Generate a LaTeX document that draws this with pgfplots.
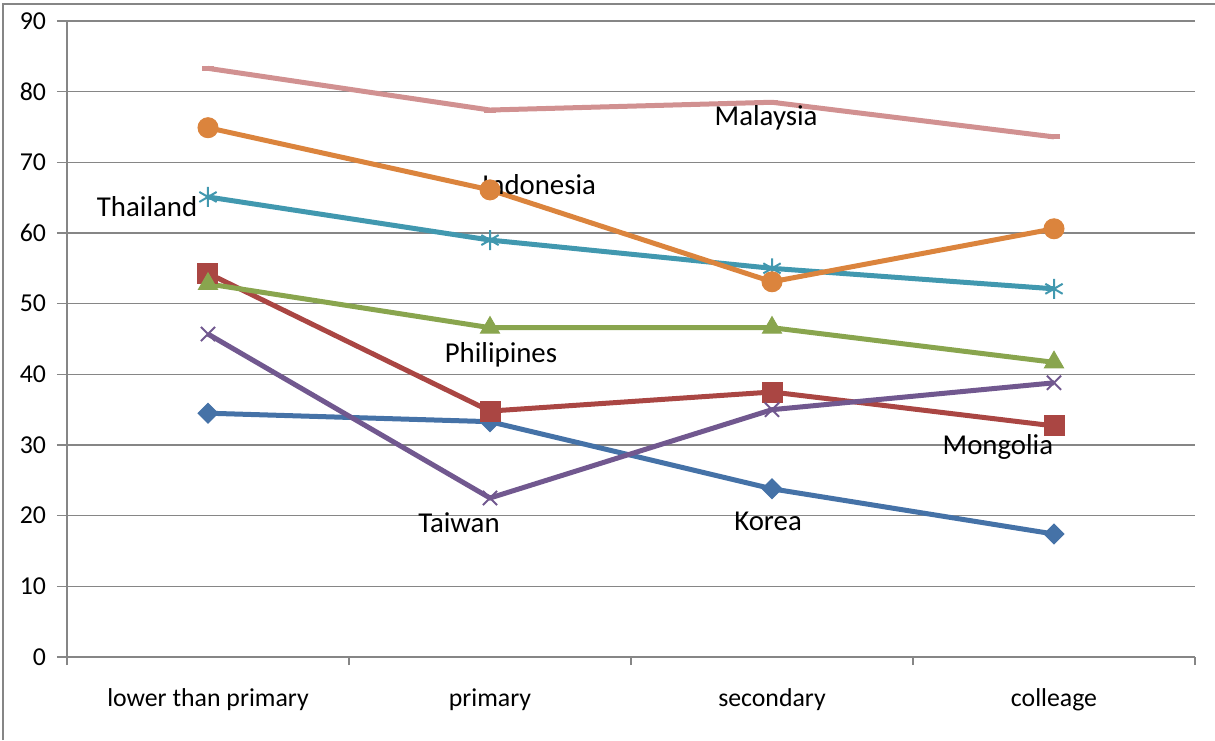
\documentclass[border=0pt]{standalone}
\usepackage{fontspec}
\setmainfont{Carlito}
\usepackage{pgfplots}
\pgfplotsset{compat=1.18}
\definecolor{gridgray}{RGB}{134,134,134}
\definecolor{cKorea}{RGB}{69,114,167}
\definecolor{cMongolia}{RGB}{170,70,67}
\definecolor{cPhil}{RGB}{137,165,78}
\definecolor{cTaiwan}{RGB}{113,88,143}
\definecolor{cThai}{RGB}{65,152,175}
\definecolor{cIndo}{RGB}{219,132,61}
\definecolor{cMalay}{RGB}{209,145,145}
\begin{document}
\begin{tikzpicture}
\path[use as bounding box] (-33.5pt,-41.5pt) rectangle (574pt,328.5pt);
\draw[gridgray, line width=1pt] (-32pt,-41.5pt) -- (-32pt,326.5pt) -- (574pt,326.5pt);
\begin{axis}[
  scale only axis, width=564pt, height=318pt,
  at={(0,0)}, anchor=south west,
  xmin=0, xmax=4, ymin=0, ymax=90,
  separate axis lines,
  axis x line*=bottom, axis y line*=left,
  axis line style={gridgray, line width=0.75pt},
  ytick={0,10,...,90},
  ymajorgrids, grid style={gridgray, line width=0.75pt},
  xtick={0.5,1.5,2.5,3.5},
  xticklabels={lower than primary, primary, secondary, colleage},
  minor xtick={0,1,2,3,4},
  major x tick style={draw=none},
  minor x tick style={gridgray, line width=0.75pt},
  ytick style={gridgray, line width=0.75pt},
  tick align=outside, major tick length=5pt, minor tick length=4pt,
  ticklabel style={font=\fontsize{12.9}{15}\selectfont},
  /pgf/number format/assume math mode=true,
  xticklabel style={anchor=base, yshift=-19.5pt},
  yticklabel style={xshift=-2pt},
  every axis plot/.append style={line width=2.5pt},
  clip=false,
]
\addplot[cKorea, mark=square*, mark size=3.5pt, mark options={rotate=45, solid, line width=0.5pt}]
  coordinates {(0.5,34.5) (1.5,33.3) (2.5,23.8) (3.5,17.4)};
\addplot[cMongolia, mark=square*, mark size=5pt, mark options={solid, line width=0.5pt}]
  coordinates {(0.5,54.3) (1.5,34.8) (2.5,37.5) (3.5,32.7)};
\addplot[cPhil, mark=triangle*, mark size=5.5pt, mark options={solid, line width=0.5pt}]
  coordinates {(0.5,52.8) (1.5,46.6) (2.5,46.6) (3.5,41.7)};
\addplot[cTaiwan, mark=x, mark size=5pt, mark options={solid, line width=1pt}]
  coordinates {(0.5,45.7) (1.5,22.5) (2.5,35.0) (3.5,38.8)};
\addplot[cThai, mark=asterisk, mark size=5pt, mark options={solid, line width=1pt}]
  coordinates {(0.5,65.1) (1.5,59.0) (2.5,55.0) (3.5,52.1)};
\addplot[cIndo, mark=*, mark size=5pt, mark options={solid, line width=0.5pt}]
  coordinates {(0.5,74.9) (1.5,66.1) (2.5,53.1) (3.5,60.6)};
\addplot[cMalay, mark=-, mark size=3pt, mark options={solid, line width=2.5pt}]
  coordinates {(0.5,83.3) (1.5,77.4) (2.5,78.5) (3.5,73.6)};
\begin{scope}[every node/.style={font=\fontsize{14.4}{17}\selectfont, anchor=center, inner sep=0pt}]
\node at (axis cs:2.479,76.3) {Malaysia};
\node at (axis cs:1.674,66.8) {Indonesia};
\node at (axis cs:0.284,63.7) {Thailand};
\node at (axis cs:1.539,42.7) {Philipines};
\node at (axis cs:3.301,29.7) {Mongolia};
\node at (axis cs:1.390,19.0) {Taiwan};
\node at (axis cs:2.486,19.2) {Korea};
\end{scope}
\end{axis}
\end{tikzpicture}
\end{document}
